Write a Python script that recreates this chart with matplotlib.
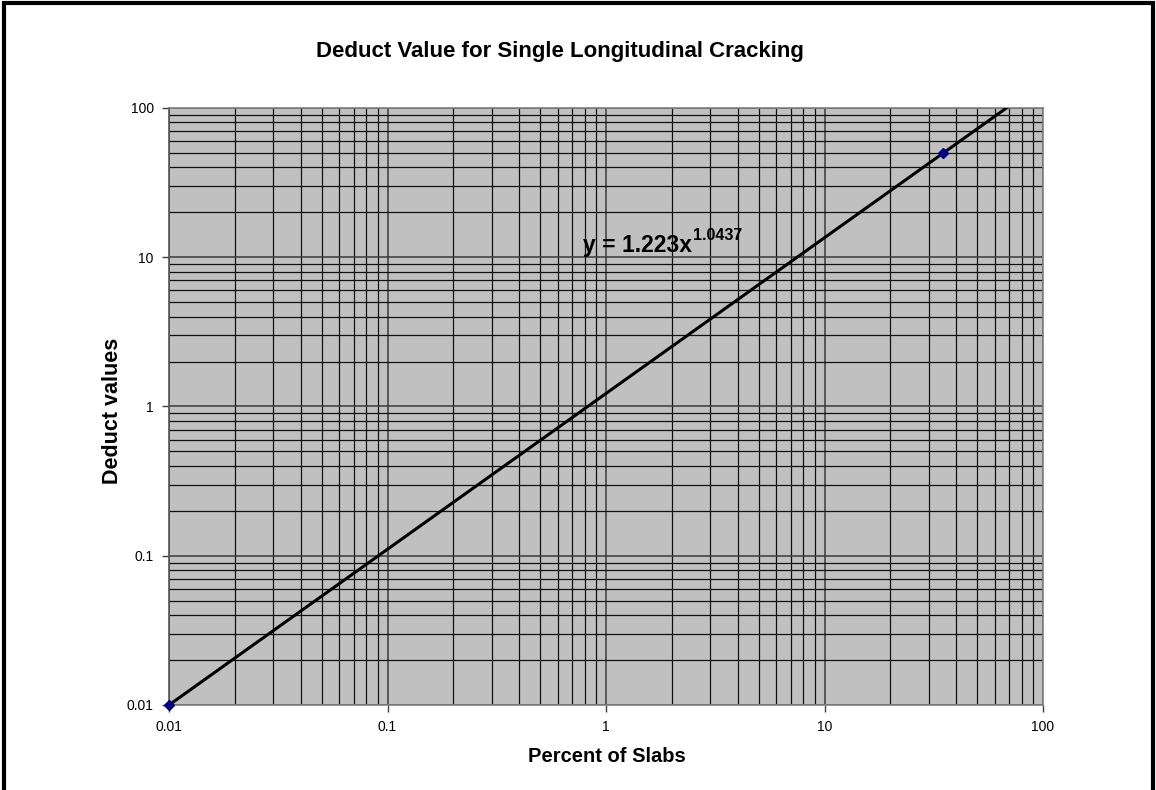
import numpy as np
import matplotlib
matplotlib.use("Agg")
import matplotlib.pyplot as plt
from matplotlib.patches import Rectangle
from matplotlib.ticker import LogLocator, FixedFormatter, FixedLocator

plt.rcParams['font.family'] = ['Liberation Sans', 'DejaVu Sans']

# data points
pct_slabs = [0.01, 35]
deduct = [0.01, 50]

# power trendline y = a * x^b
coef_a = 1.223
coef_b = 1.0437

major_ticks = [0.01, 0.1, 1, 10, 100]
tick_labels = ['0.01', '0.1', '1', '10', '100']

fig = plt.figure(figsize=(11.56, 7.90), dpi=100)
fig.patch.set_facecolor('white')

# outer chart border (bottom edge is cut off in the original)
fig.patches.append(Rectangle((3.5 / 1156, -0.05), (1152.5 - 3.5) / 1156, 0.9956 + 0.05,
                             transform=fig.transFigure, fill=False,
                             edgecolor='black', linewidth=3, zorder=10))

ax = fig.add_axes([0.1462, 0.1076, 0.7561, 0.7557])
ax.set_facecolor('#C0C0C0')
ax.set_xscale('log')
ax.set_yscale('log')
ax.set_xlim(0.01, 100)
ax.set_ylim(0.01, 100)

# trendline
xs = np.logspace(-2, 2, 200)
ax.plot(xs, coef_a * xs ** coef_b, color='black', linewidth=2.2, zorder=3)

# markers
ax.plot(pct_slabs, deduct, linestyle='none', marker='D', markersize=5,
        color='#000080', zorder=4, clip_on=False)

for axis in (ax.xaxis, ax.yaxis):
    axis.set_major_locator(FixedLocator(major_ticks))
    axis.set_major_formatter(FixedFormatter(tick_labels))
    axis.set_minor_locator(LogLocator(base=10, subs=np.arange(2, 10), numticks=20))

ax.grid(which='major', color='#3a3a3a', linewidth=1.1)
ax.grid(which='minor', color='#111111', linewidth=0.9)
ax.set_axisbelow(True)

ax.tick_params(which='major', direction='out', length=5, width=1, color='#404040',
               labelsize=10, pad=6)
ax.tick_params(which='minor', length=0)
for s in ax.spines.values():
    s.set_color('#808080')
    s.set_linewidth(1.2)
ax.spines['left'].set_color('#555555')

# trendline equation
eq = ax.text(0.785, 10.84, 'y = 1.223x', fontsize=16.5, fontweight='bold',
             va='baseline', ha='left', zorder=5)
ax.annotate('1.0437', xy=(1, 1), xycoords=eq, xytext=(1, 4), textcoords='offset points',
            fontsize=11.5, fontweight='bold', va='top', ha='left', zorder=5)

fig.text(0.4844, 0.9278, 'Deduct Value for Single Longitudinal Cracking',
         ha='center', va='baseline', fontsize=16, fontweight='bold')
fig.text(0.5247, 0.0354, 'Percent of Slabs', ha='center', va='baseline',
         fontsize=14.5, fontweight='bold')
fig.text(0.0975, 0.480, 'Deduct values', ha='center', va='center',
         rotation=90, fontsize=15.5, fontweight='bold')

fig.savefig('out.png', dpi=100, facecolor='white')
